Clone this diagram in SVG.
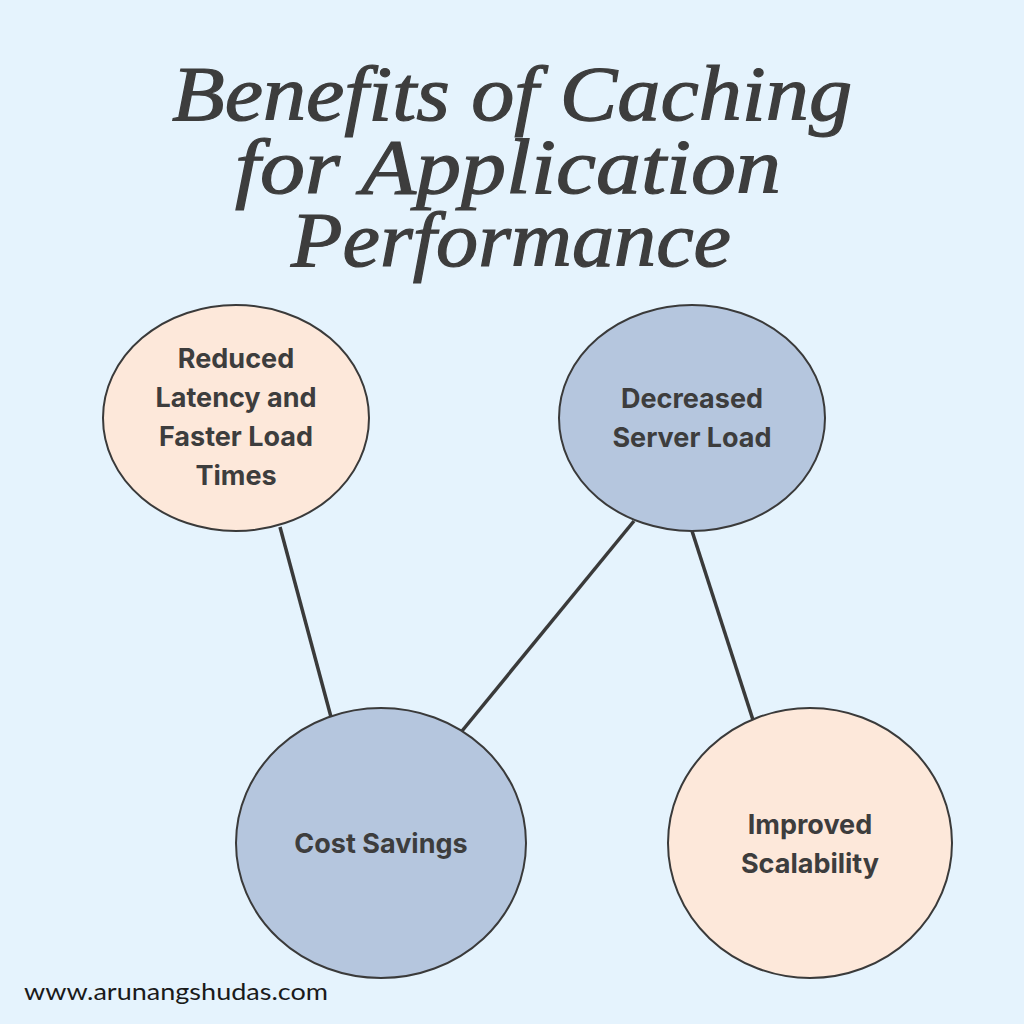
<svg xmlns="http://www.w3.org/2000/svg" width="1024" height="1024" viewBox="0 0 1024 1024">
<style>
.title{font-family:"Liberation Serif","DejaVu Serif",serif;font-style:italic;font-size:78px;fill:#3d3d3d;stroke:#3d3d3d;stroke-width:1.2;text-anchor:middle}
.lbl{font-family:Inter,"Liberation Sans",sans-serif;font-weight:700;font-size:27px;fill:#3d3d3d;text-anchor:middle}
.peach{fill:#fde8da;stroke:#3a3a3a;stroke-width:2}
.blue{fill:#b5c6de;stroke:#3a3a3a;stroke-width:2}
.conn{stroke:#3a3a3a;stroke-width:3.5;fill:none}
</style>
<rect width="1024" height="1024" fill="#e5f3fd"/>
<g id="title">
<text class="title" x="512" y="120" textLength="680" lengthAdjust="spacingAndGlyphs">Benefits of Caching</text>
<text class="title" x="508" y="193" textLength="546" lengthAdjust="spacingAndGlyphs">for Application</text>
<text class="title" x="511" y="266" textLength="440" lengthAdjust="spacingAndGlyphs">Performance</text>
</g>
<g id="connectors">
<line class="conn" x1="280" y1="527" x2="331" y2="717"/>
<line class="conn" x1="634" y1="521" x2="462" y2="731"/>
<line class="conn" x1="692" y1="531" x2="753" y2="720"/>
</g>
<g id="node-latency">
<ellipse class="peach" cx="236" cy="418" rx="133" ry="113"/>
<text class="lbl" x="236" y="368">Reduced</text>
<text class="lbl" x="236" y="407">Latency and</text>
<text class="lbl" x="236" y="446">Faster Load</text>
<text class="lbl" x="236" y="485">Times</text>
</g>
<g id="node-server">
<ellipse class="blue" cx="692" cy="418" rx="133" ry="113"/>
<text class="lbl" x="692" y="408">Decreased</text>
<text class="lbl" x="692" y="447">Server Load</text>
</g>
<g id="node-cost">
<ellipse class="blue" cx="381" cy="843" rx="145" ry="135"/>
<text class="lbl" x="381" y="853">Cost Savings</text>
</g>
<g id="node-scal">
<ellipse class="peach" cx="810" cy="843" rx="142" ry="135"/>
<text class="lbl" x="810" y="834">Improved</text>
<text class="lbl" x="810" y="873">Scalability</text>
</g>
<text x="24" y="1000" font-family="Lato,'Open Sans',sans-serif" font-size="23" fill="#1a1a1a" textLength="304" lengthAdjust="spacingAndGlyphs">www.arunangshudas.com</text>
</svg>
